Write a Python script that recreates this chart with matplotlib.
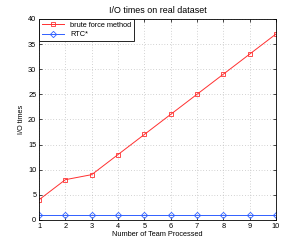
import matplotlib
matplotlib.use("Agg")
import matplotlib.pyplot as plt

# data
teams = [1, 2, 3, 4, 5, 6, 7, 8, 9, 10]
brute_force = [4, 8, 9, 13, 17, 21, 25, 29, 33, 37]
rtc_star = [1, 1, 1, 1, 1, 1, 1, 1, 1, 1]

plt.rcParams['font.family'] = ['Liberation Sans', 'DejaVu Sans']
plt.rcParams['font.size'] = 5.3

fig = plt.figure(figsize=(3.05, 2.49), dpi=100)
ax = fig.add_axes([0.128, 0.117, 0.777, 0.807])

ax.plot(teams, brute_force, color='#ff3030', lw=0.7, marker='s', ms=3.5,
        mfc='none', mew=0.6, label='brute force method')
ax.plot(teams, rtc_star, color='#3060ff', lw=0.7, marker='D', ms=3.2,
        mfc='none', mew=0.6, label='RTC*')

ax.set_xlim(1, 10)
ax.set_ylim(0, 40)
ax.set_xticks(teams)
ax.set_yticks(range(0, 41, 5))
ax.grid(True, linestyle=(0, (1, 3)), color='#aaaaaa', lw=0.5)
ax.tick_params(direction='in', length=2.5, width=0.5, top=True, right=True, pad=2)
for s in ax.spines.values():
    s.set_linewidth(0.6)

ax.set_title('I/O times on real dataset', pad=4)
ax.set_xlabel('Number of Team Processed', labelpad=1)
ax.set_ylabel('I/O times', labelpad=2)

leg = ax.legend(loc='upper left', fancybox=False, edgecolor='black',
                borderaxespad=0, handlelength=3, borderpad=0.4, labelspacing=0.3,
                framealpha=1)
leg.get_frame().set_linewidth(0.6)

fig.savefig('out.png', dpi=100)
